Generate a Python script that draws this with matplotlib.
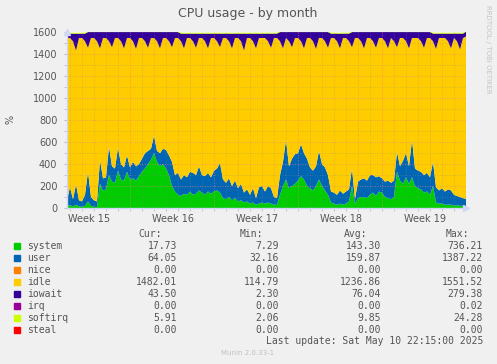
import numpy as np
import matplotlib
matplotlib.use("Agg")
import matplotlib.pyplot as plt
from matplotlib.patches import Rectangle

W, H = 497, 364

# 6-hourly samples (x = days from left edge of plot)
step_days = 0.25

system = [20, 25, 15, 30, 15, 10, 20, 60, 20, 10,
          10, 220, 160, 170, 300, 240, 230, 340, 260, 250,
          330, 260, 270, 250, 290, 330, 360, 400, 440, 500,
          420, 380, 400, 360, 300, 200, 150, 120, 110, 130,
          120, 150, 120, 130, 160, 140, 120, 150, 130, 150,
          160, 140, 90, 80, 100, 70, 90, 60, 70, 50,
          60, 40, 50, 30, 40, 50, 40, 50, 40, 30,
          30, 120, 200, 260, 180, 200, 220, 250, 290, 260,
          200, 180, 160, 200, 260, 200, 160, 120, 50, 40,
          30, 40, 30, 40, 60, 200, 40, 90, 100, 100,
          90, 120, 140, 110, 150, 140, 100, 90, 80, 100,
          330, 250, 220, 280, 220, 280, 200, 180, 170, 140,
          150, 120, 200, 50, 40, 40, 30, 30, 30, 20,
          25, 20, 20, 17.73]

user = [50, 165, 65, 185, 55, 50, 100, 270, 80, 60,
        50, 220, 110, 110, 260, 140, 130, 210, 140, 120,
        150, 110, 150, 130, 110, 120, 140, 120, 100, 160,
        100, 120, 140, 170, 180, 220, 150, 200, 150, 170,
        160, 180, 200, 170, 220, 160, 170, 170, 150, 190,
        200, 270, 170, 150, 170, 130, 160, 120, 150, 90,
        110, 80, 130, 60, 150, 150, 110, 150, 140, 70,
        60, 180, 220, 360, 200, 250, 270, 250, 290, 240,
        250, 190, 180, 180, 260, 200, 210, 180, 100, 100,
        90, 120, 100, 110, 110, 160, 40, 150, 160, 170,
        160, 180, 160, 170, 140, 130, 140, 160, 150, 150,
        180, 130, 210, 220, 160, 340, 160, 160, 160, 160,
        170, 160, 220, 140, 120, 140, 120, 140, 130, 100,
        85, 80, 70, 64.05]

idle = [1480, 1360, 1440, 1221, 1480, 1490, 1400, 1131, 1450, 1480,
        1460, 1016, 1280, 1270, 960, 1086, 1190, 1000, 1120, 1086,
        1070, 1180, 1100, 1071, 1150, 1100, 1020, 941, 1010, 890,
        1000, 956, 1010, 1020, 1040, 1046, 1250, 1230, 1260, 1156,
        1270, 1220, 1200, 1161, 1170, 1250, 1230, 1136, 1270, 1210,
        1160, 1056, 1290, 1320, 1250, 1256, 1300, 1370, 1300, 1296,
        1380, 1430, 1340, 1366, 1360, 1350, 1400, 1320, 1281, 1450,
        1460, 1220, 1036, 930, 1140, 1016, 1060, 1050, 940, 956,
        1100, 1180, 1180, 1071, 1030, 1150, 1150, 1161, 1400, 1410,
        1400, 1296, 1420, 1400, 1350, 1106, 1470, 1310, 1260, 1186,
        1300, 1250, 1220, 1181, 1260, 1280, 1280, 1206, 1320, 1270,
        956, 1170, 1120, 1020, 1076, 930, 1190, 1210, 1190, 1161,
        1230, 1270, 1100, 1261, 1390, 1370, 1400, 1350, 1296, 1430,
        1410, 1346, 1460, 1482.01]

iowait = [40, 40, 70, 154, 40, 40, 70, 143, 54, 54,
          84, 148, 54, 54, 84, 138, 54, 54, 84, 148,
          54, 54, 84, 153, 54, 54, 84, 143, 54, 54,
          84, 148, 54, 54, 84, 138, 54, 54, 70, 134,
          40, 40, 70, 129, 40, 40, 70, 134, 40, 40,
          70, 124, 40, 40, 70, 134, 40, 40, 70, 154,
          40, 40, 70, 134, 40, 40, 40, 70, 129, 40,
          40, 84, 148, 54, 84, 138, 54, 54, 84, 148,
          54, 54, 84, 153, 54, 54, 84, 143, 40, 40,
          70, 134, 40, 40, 70, 138, 54, 54, 84, 148,
          54, 54, 84, 143, 54, 54, 84, 148, 54, 84,
          138, 54, 54, 84, 148, 54, 54, 54, 84, 143,
          54, 54, 70, 139, 40, 40, 40, 70, 134, 40,
          70, 144, 40, 43.5]

softirq = [8, 8, 8, 8, 8, 8, 8, 10, 11, 9,
           12, 10, 9, 11, 10, 9, 12, 10, 11, 9,
           10, 11, 9, 10, 12, 10, 9, 11, 10, 9,
           11, 10, 12, 9, 10, 11, 9, 10, 8, 8,
           8, 8, 8, 8, 8, 8, 8, 8, 8, 8,
           8, 8, 8, 8, 8, 8, 8, 8, 8, 8,
           8, 8, 8, 8, 8, 8, 8, 8, 8, 8,
           8, 10, 11, 9, 12, 10, 9, 11, 10, 12,
           9, 10, 11, 10, 9, 12, 10, 11, 8, 8,
           8, 8, 8, 8, 8, 10, 9, 11, 10, 12,
           9, 11, 10, 10, 12, 9, 11, 10, 9, 10,
           12, 10, 11, 9, 10, 11, 10, 9, 12, 10,
           11, 9, 8, 8, 8, 8, 8, 8, 8, 8,
           8, 8, 8, 5.91]

n = len(system)
nice = [0.0] * n
irq = [0.0] * n
steal = [0.0] * n
days = np.arange(n) * step_days

names = ["system", "user", "nice", "idle", "iowait", "irq", "softirq", "steal"]
colors = ["#00CC00", "#0066B3", "#FF8000", "#FFCC00", "#330099", "#990099", "#CCFF00", "#FF0000"]
cur = ["17.73", "64.05", "0.00", "1482.01", "43.50", "0.00", "5.91", "0.00"]
mins = ["7.29", "32.16", "0.00", "114.79", "2.30", "0.00", "2.06", "0.00"]
avgs = ["143.30", "159.87", "0.00", "1236.86", "76.04", "0.00", "9.85", "0.00"]
maxs = ["736.21", "1387.22", "0.00", "1551.52", "279.38", "0.02", "24.28", "0.00"]

week_labels = ["Week 15", "Week 16", "Week 17", "Week 18", "Week 19"]
week_label_pos = [1.8, 8.8, 15.8, 22.8, 29.8]
week_grid = [5.25, 12.25, 19.25, 26.25]

FONT = "#555555"


def fx(x):
    return x / W


def fy(y):
    return 1 - y / H


fig = plt.figure(figsize=(W / 100, H / 100), dpi=100, facecolor="#F0F0F0")
ax = fig.add_axes([fx(67), fy(208), (466 - 67) / W, (208 - 32.5) / H])
ax.set_facecolor("white")

ax.stackplot(days, system, user, nice, idle, iowait, irq, softirq, steal,
             colors=colors, linewidth=0, zorder=1)

ax.set_xlim(0, 33.25)
ax.set_ylim(0, 1600)

# grid drawn over the areas, rrdtool style
dot = (0, (1, 2))
for v in range(100, 1600, 100):
    if v % 200 == 0:
        ax.axhline(v, color="#f08080", lw=0.6, ls=dot, alpha=0.8, zorder=3)
    else:
        ax.axhline(v, color="#8c8c8c", lw=0.6, ls=dot, alpha=0.45, zorder=3)
for d in np.arange(0.25, 33.25, 1.0):
    if d in week_grid:
        ax.axvline(d, color="#f08080", lw=0.6, ls=dot, alpha=0.8, zorder=3)
    else:
        ax.axvline(d, color="#8c8c8c", lw=0.6, ls=dot, alpha=0.45, zorder=3)

for side in ["top", "right"]:
    ax.spines[side].set_visible(False)
for side in ["left", "bottom"]:
    ax.spines[side].set_color("#CFD6F8")
    ax.spines[side].set_linewidth(1)
    ax.spines[side].set_zorder(4)

# axis arrows
ax.plot([0], [1], marker="^", ms=4, color="#CFD6F8", transform=ax.transAxes,
        clip_on=False, zorder=5)
ax.plot([1], [0], marker=">", ms=4, color="#CFD6F8", transform=ax.transAxes,
        clip_on=False, zorder=5)

ax.set_yticks(range(0, 1601, 200))
ax.set_yticks(range(100, 1600, 200), minor=True)
ax.tick_params(axis="y", which="both", length=2, pad=5, colors="#c0c0c0",
               labelcolor=FONT, labelsize=7)
ax.set_xticks(week_label_pos)
ax.set_xticklabels(week_labels)
ax.set_xticks(np.arange(0.25, 33.25, 1.0), minor=True)
ax.tick_params(axis="x", which="major", length=0, pad=4, labelcolor=FONT, labelsize=7)
ax.tick_params(axis="x", which="minor", length=2, colors="#c0c0c0")

fig.text(fx(248), fy(13), "CPU usage - by month", ha="center", va="center",
         fontsize=9, color=FONT)
fig.text(fx(10), fy(119), "%", ha="center", va="center", rotation=90,
         fontsize=7, color=FONT)
fig.text(fx(488), fy(5), "RRDTOOL / TOBI OETIKER", ha="center", va="top",
         rotation=270, fontsize=5, color="#c4c4c4")

# legend table
mono = "DejaVu Sans Mono"
fs = 7
header_y = 234
for label, xr in [("Cur:", 162), ("Min:", 263), ("Avg:", 367), ("Max:", 469)]:
    fig.text(fx(xr), fy(header_y), label, ha="right", va="center",
             family=mono, fontsize=fs, color=FONT)

for k, name in enumerate(names):
    yc = 245.7 + 12 * k
    fig.patches.append(Rectangle((fx(14), fy(yc + 3)), 6 / W, 6 / H,
                                 transform=fig.transFigure, color=colors[k]))
    fig.text(fx(27), fy(yc), name, ha="left", va="center",
             family=mono, fontsize=fs, color=FONT)
    for vals, xr in [(cur, 177), (mins, 279), (avgs, 381), (maxs, 483)]:
        fig.text(fx(xr), fy(yc), vals[k], ha="right", va="center",
                 family=mono, fontsize=fs, color=FONT)

fig.text(fx(483), fy(341), "Last update: Sat May 10 22:15:00 2025", ha="right",
         va="center", family=mono, fontsize=fs, color=FONT)
fig.text(fx(248), fy(353), "Munin 2.0.33-1", ha="center", va="center",
         fontsize=5, color="#c0c0c0")

fig.savefig("out.png", dpi=100, facecolor=fig.get_facecolor())
